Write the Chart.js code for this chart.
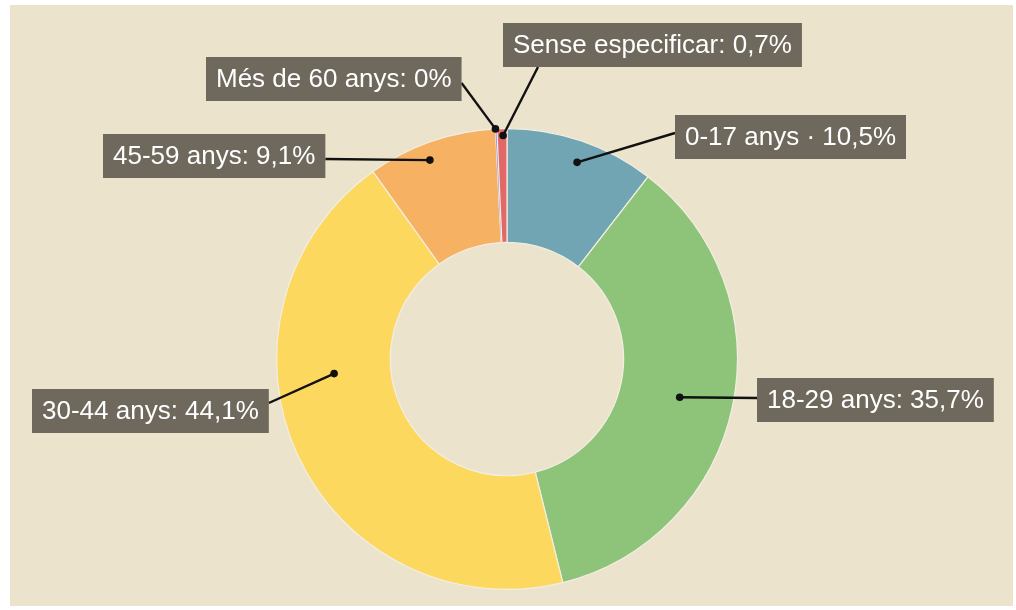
<!DOCTYPE html>
<html>
<head>
<meta charset="utf-8">
<script src="https://cdn.jsdelivr.net/npm/chart.js@4.4.1/dist/chart.umd.min.js"></script>
<style>
  html, body { margin: 0; padding: 0; background: #ffffff; }
  #wrap { position: relative; width: 1016px; height: 610px; }
  #paper { position: absolute; left: 10px; top: 5px; width: 1003px; height: 601px; background: #ece3cd; }
  #chart { position: absolute; left: 0; top: 0; }
</style>
</head>
<body>
<div id="wrap">
  <div id="paper"></div>
  <canvas id="chart" width="1016" height="610"></canvas>
</div>
<script>
  // Dades del gràfic (percentatges per franja d'edat)
  const categories = ['0-17 anys', '18-29 anys', '30-44 anys', '45-59 anys', 'Més de 60 anys', 'Sense especificar'];
  const values = [10.5, 35.7, 44.1, 9.1, 0.1, 0.7];
  const labelTexts = [
    '0-17 anys · 10,5%',
    '18-29 anys: 35,7%',
    '30-44 anys: 44,1%',
    '45-59 anys: 9,1%',
    'Més de 60 anys: 0%',
    'Sense especificar: 0,7%'
  ];
  const colors = ['#72a5b3', '#8ec47a', '#fdd85f', '#f6b163', '#6e6ef2', '#e26868'];

  // Posició de les etiquetes (caixa, punt d'ancoratge i punt dins la llesca)
  const callouts = [
    { x: 675, y: 115, side: 'left', off: 18, t: 0.52, r: 0.81 },
    { x: 757, y: 378, side: 'left', off: 20, t: 0.505, r: 0.53 },
    { x: 32, y: 389, side: 'right', off: 14, t: 0.626, r: 0.50 },
    { x: 103, y: 134, side: 'right', off: 25, t: 0.44, r: 0.85 },
    { x: 206, y: 57, side: 'right', off: 26, t: 0.0, r: 1.0 },
    { x: 503, y: 23, side: 'bottom', off: 35, t: 0.6, r: 0.94 }
  ];

  const calloutPlugin = {
    id: 'callouts',
    afterDatasetsDraw: function (chart) {
      const ctx = chart.ctx;
      const arcs = chart.getDatasetMeta(0).data;
      ctx.save();
      ctx.font = '26px "Liberation Sans", Arial, sans-serif';
      ctx.textBaseline = 'middle';
      callouts.forEach(function (c, i) {
        const arc = arcs[i];
        const p = arc.getProps(['x', 'y', 'startAngle', 'endAngle', 'innerRadius', 'outerRadius'], true);
        const ang = p.startAngle + c.t * (p.endAngle - p.startAngle);
        const rad = p.innerRadius + c.r * (p.outerRadius - p.innerRadius);
        const dx = p.x + Math.cos(ang) * rad;
        const dy = p.y + Math.sin(ang) * rad;

        const w = ctx.measureText(labelTexts[i]).width + 20;
        const h = 44;
        let ax, ay;
        if (c.side === 'left') { ax = c.x; ay = c.y + c.off; }
        else if (c.side === 'right') { ax = c.x + w; ay = c.y + c.off; }
        else { ax = c.x + c.off; ay = c.y + h; }

        // Línia i punt
        ctx.strokeStyle = '#111111';
        ctx.lineWidth = 2.4;
        ctx.beginPath();
        ctx.moveTo(ax, ay);
        ctx.lineTo(dx, dy);
        ctx.stroke();
        ctx.fillStyle = '#111111';
        ctx.beginPath();
        ctx.arc(dx, dy, 3.8, 0, Math.PI * 2);
        ctx.fill();

        // Caixa
        ctx.fillStyle = '#6f695d';
        ctx.fillRect(c.x, c.y, w, h);
        ctx.fillStyle = '#ffffff';
        ctx.fillText(labelTexts[i], c.x + 10, c.y + h / 2 + 1);
      });
      ctx.restore();
    }
  };

  new Chart(document.getElementById('chart'), {
    type: 'doughnut',
    data: {
      labels: categories,
      datasets: [{
        data: values,
        backgroundColor: colors,
        borderColor: '#f3eee2',
        borderWidth: [1.2, 1.2, 1.2, 1.2, 0.3, 1.2]
      }]
    },
    options: {
      responsive: false,
      animation: false,
      cutout: '50.6%',
      layout: { padding: { top: 128, bottom: 20, left: 0, right: 2 } },
      plugins: {
        legend: { display: false },
        tooltip: { enabled: false }
      }
    },
    plugins: [calloutPlugin]
  });
</script>
</body>
</html>
